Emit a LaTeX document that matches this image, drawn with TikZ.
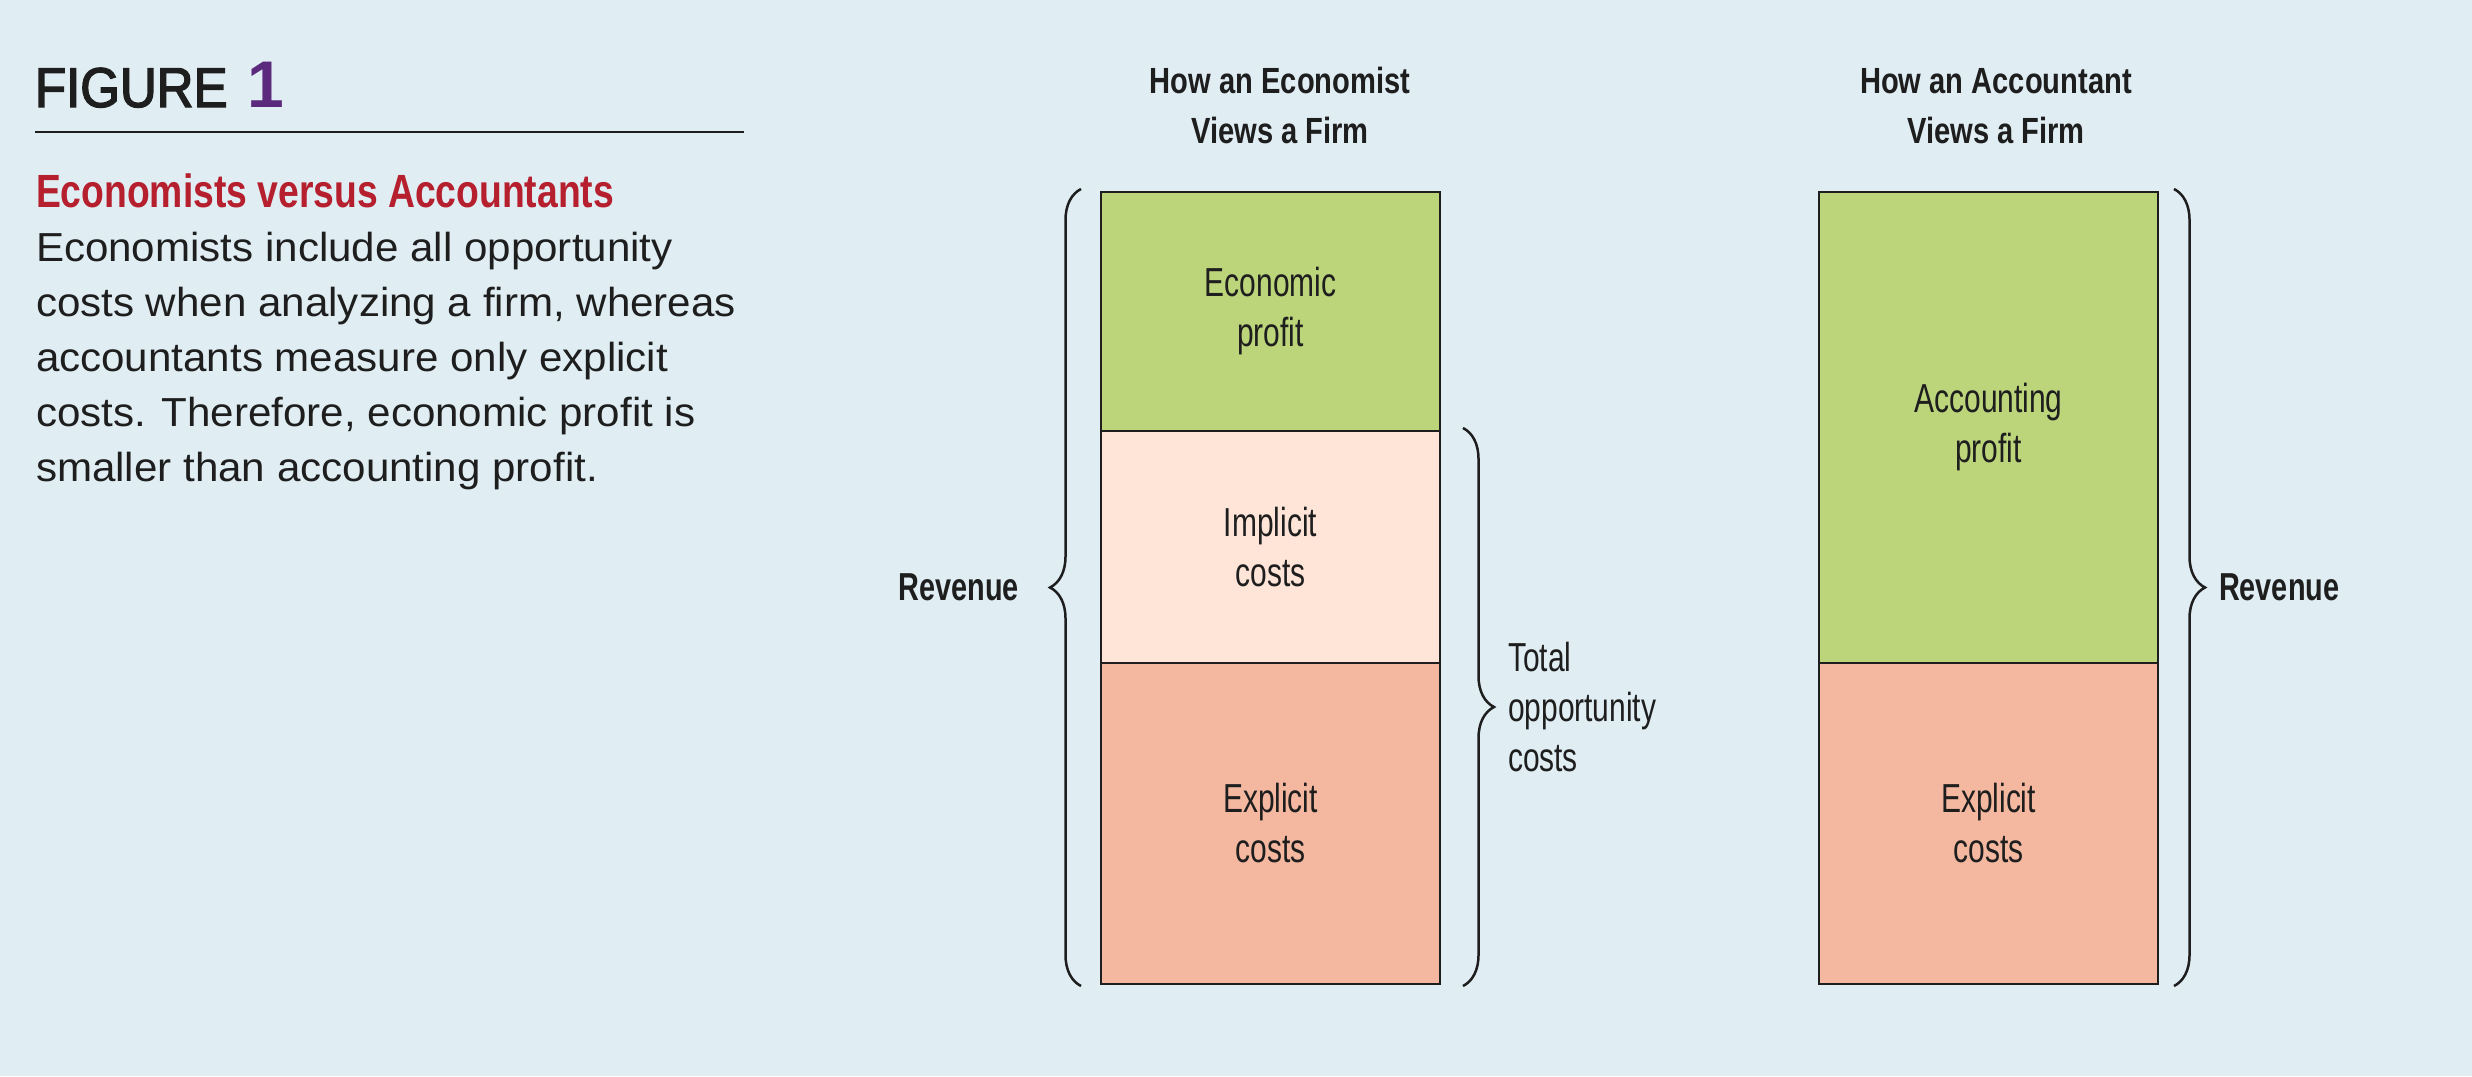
\documentclass[tikz,border=0pt]{standalone}
\usepackage{fontspec}
\setmainfont{Liberation Sans}
\newfontfamily\narrowfont{Liberation Sans}[FakeStretch=0.74]
\newfontfamily\headfont{Liberation Sans}[FakeStretch=0.8]
\newfontfamily\titlefont{Liberation Sans}[FakeStretch=0.91,FakeBold=2.5]
\newfontfamily\bodyfont{Liberation Sans}[FakeStretch=1.04]
\usetikzlibrary{positioning,decorations.pathreplacing}
\definecolor{bg}{RGB}{224,238,244}
\definecolor{profit}{RGB}{188,213,123}
\definecolor{implicit}{RGB}{254,229,216}
\definecolor{explicit}{RGB}{244,184,160}
\definecolor{headred}{RGB}{181,31,46}
\definecolor{figpurple}{RGB}{91,42,124}
\definecolor{ink}{RGB}{30,30,30}
\def\Rev{Revenue}

\begin{document}
\begin{tikzpicture}[x=0.5pt,y=-0.5pt,% one unit = one pixel of the figure
			every node/.style={
				inner sep=0pt,		% text sits right on its anchor
				outer sep=0pt,		% stacked boxes share their border
				text=ink
			},
			box/.style={rectangle,draw=ink,line width=1pt,minimum width=169.5pt,align=center,
				font=\narrowfont\fontsize{20.25}{25}\selectfont},
			sidetext/.style={align=left,font=\narrowfont\fontsize{20.25}{25}\selectfont},
			rev/.style={font=\narrowfont\bfseries\fontsize{19.5}{25}\selectfont},
			head/.style={align=center,font=\headfont\bfseries\fontsize{18.2}{25}\selectfont},
			curly/.style={draw=ink,line width=1.25pt,decorate,decoration={brace,amplitude=15.5pt}}
		]
		\fill[bg] (0,0) rectangle (2472,1076);
		\useasboundingbox (0,0) rectangle (2472,1076);
		% caption on the left
		\node[anchor=base west,font=\titlefont\fontsize{28}{28}\selectfont](FG) at (35,107) {FIGURE\hspace{3pt} {\color{figpurple}\rmfamily\bfseries\fontsize{33}{33}\selectfont 1}};
		\draw[ink,line width=0.9pt] (35,132) -- (744,132);
		\node[anchor=base west,text=headred,font=\headfont\bfseries\fontsize{23.3}{28}\selectfont](T1) at (36,207) {Economists versus Accountants};
		% base of a multi-line node is its last line
		\node[anchor=base west,align=left,font=\bodyfont\fontsize{20.25}{27.5}\selectfont](T2) at (36,481) {Economists include all opportunity\\ costs when analyzing a firm, whereas\\ accountants measure only explicit\\ costs. Therefore, economic profit is\\ smaller than accounting profit.};
		% economist's firm
		\node[box,fill=profit,minimum height=119.5pt,anchor=north](EP) at (1270.5,192) {Economic\\ profit};
		\node[box,fill=implicit,minimum height=116pt](IC)[below=0pt of EP]{Implicit\\ costs};
		\node[box,fill=explicit,minimum height=160.5pt](XC)[below=0pt of IC]{Explicit\\ costs};
		\node[head,xshift=4.75pt](H1)[above=24pt of EP]{How an Economist\\ Views a Firm};
		% accountant's firm
		\node[box,fill=profit,minimum height=235.5pt,anchor=north](AP) at (1988.5,192) {Accounting\\ profit};
		\node[box,fill=explicit,minimum height=160.5pt](AX)[below=0pt of AP]{Explicit\\ costs};
		\node[head,xshift=3.75pt](H2)[above=24pt of AP]{How an Accountant\\ Views a Firm};
		% braces
		\path[curly] ([xshift=-10pt,yshift=-1pt]XC.south west) -- ([xshift=-10pt,yshift=1.5pt]EP.north west)
			coordinate[midway,xshift=-15.5pt](B1);
		\path[curly] ([xshift=11.5pt,yshift=1.5pt]IC.north east) -- ([xshift=11.5pt,yshift=-1pt]XC.south east)
			coordinate[midway,xshift=15.5pt](B2);
		\path[curly] ([xshift=8pt,yshift=1.5pt]AP.north east) -- ([xshift=8pt,yshift=-1pt]AX.south east)
			coordinate[midway,xshift=15.5pt](B3);
		\node[rev](R1)[left=15.5pt of B1]{\Rev};
		\node[sidetext](TC)[right=7pt of B2]{Total\\ opportunity\\ costs};
		\node[rev](R2)[right=7pt of B3]{\Rev};
	\end{tikzpicture}
\end{document}
